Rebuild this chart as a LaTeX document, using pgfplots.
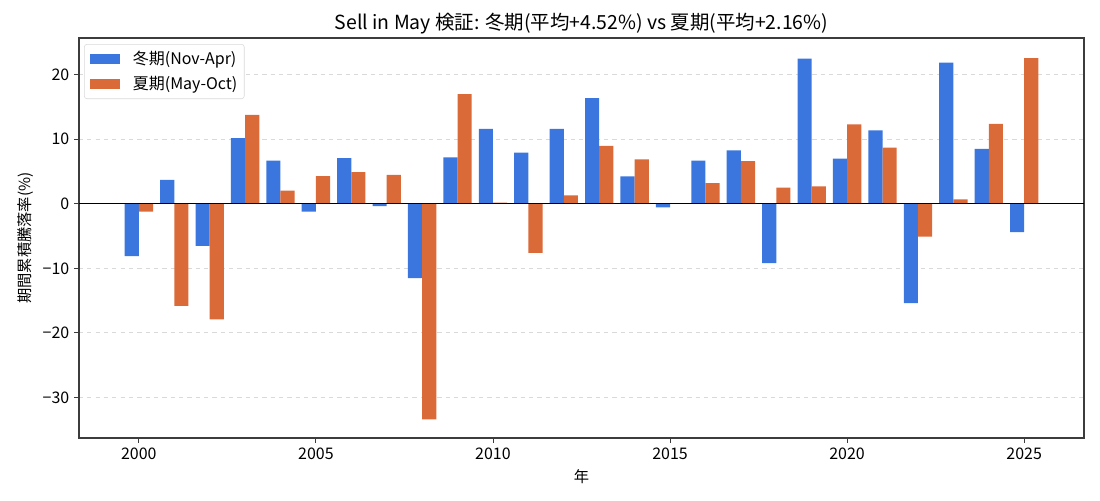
\documentclass[border=0pt]{standalone}
\usepackage{fontspec}
\setmainfont{Noto Sans CJK JP}
\usepackage{pgfplots}
\pgfplotsset{compat=1.18}
\definecolor{winter}{RGB}{58,118,221}
\definecolor{summer}{RGB}{219,106,57}
\definecolor{axisgray}{RGB}{60,60,60}
\begin{document}
\begin{tikzpicture}[x=0.72pt,y=0.72pt]
\path (-79,-62) rectangle (1021,438);
\begin{axis}[
  at={(0,0)}, anchor=south west,
  scale only axis, width=723.6pt, height=288pt,
  xmin=1998.31, xmax=2026.69,
  ymin=-36.3, ymax=25.7,
  xtick={2000,2005,2010,2015,2020,2025},
  ytick={-30,-20,-10,0,10,20},
  /pgf/number format/set thousands separator={},
  /pgf/number format/assume math mode=true,
  yticklabel={\ifdim\tick pt<0pt −\pgfmathparse{-\tick}\pgfmathprintnumber{\pgfmathresult}\else\pgfmathprintnumber{\tick}\fi},
  tick label style={font=\fontsize{11.5}{13}\selectfont},
  tick align=outside, tick pos=left,
  major tick length=3.5pt,
  every tick/.style={axisgray, line width=0.6pt},
  axis line style={axisgray, line width=0.8pt},
  ymajorgrids,
  major grid style={gray!30, dashed, line width=0.6pt},
  title={Sell in May 検証: 冬期(平均+4.52\%) vs 夏期(平均+2.16\%)},
  title style={font=\fontsize{14}{16}\selectfont, yshift=-6.5pt},
  xlabel={年}, ylabel={期間累積騰落率(\%)},
  label style={font=\fontsize{11}{13}\selectfont},
  ybar, bar width=0.4,
  legend cell align=left,
  legend style={font=\fontsize{11.5}{13}\selectfont, draw=gray!30, rounded corners=2pt,
    fill=white, at={(0.005,0.985)}, anchor=north west, inner sep=3pt, row sep=3pt},
  legend image code/.code={\fill[#1, sharp corners] (0pt,-3.6pt) rectangle (21.6pt,3.6pt);
    \path (-1pt,0pt) (29pt,0pt);},
]
\addplot[fill=winter, draw=none, bar shift=-0.2] coordinates {
(2000,-8.1) (2001,3.7) (2002,-6.5) (2003,10.2) (2004,6.7) (2005,-1.2)
(2006,7.1) (2007,-0.35) (2008,-11.5) (2009,7.2) (2010,11.6) (2011,7.95)
(2012,11.6) (2013,16.4) (2014,4.26) (2015,-0.56) (2016,6.7) (2017,8.3)
(2018,-9.2) (2019,22.5) (2020,7.0) (2021,11.4) (2022,-15.4) (2023,21.9)
(2024,8.5) (2025,-4.4)
};
\addlegendentry{冬期(Nov-Apr)}
\addplot[fill=summer, draw=none, bar shift=0.2] coordinates {
(2000,-1.2) (2001,-15.8) (2002,-17.9) (2003,13.8) (2004,2.05) (2005,4.3)
(2006,4.9) (2007,4.5) (2008,-33.4) (2009,17.0) (2010,0.2) (2011,-7.6)
(2012,1.3) (2013,9.0) (2014,6.9) (2015,0.0) (2016,3.2) (2017,6.6)
(2018,2.5) (2019,2.7) (2020,12.3) (2021,8.7) (2022,-5.1) (2023,0.7)
(2024,12.4) (2025,22.6)
};
\addlegendentry{夏期(May-Oct)}
\addplot[sharp plot, black, line width=0.6pt, forget plot] coordinates {(1998.31,0) (2026.69,0)};
\end{axis}
\end{tikzpicture}
\end{document}
